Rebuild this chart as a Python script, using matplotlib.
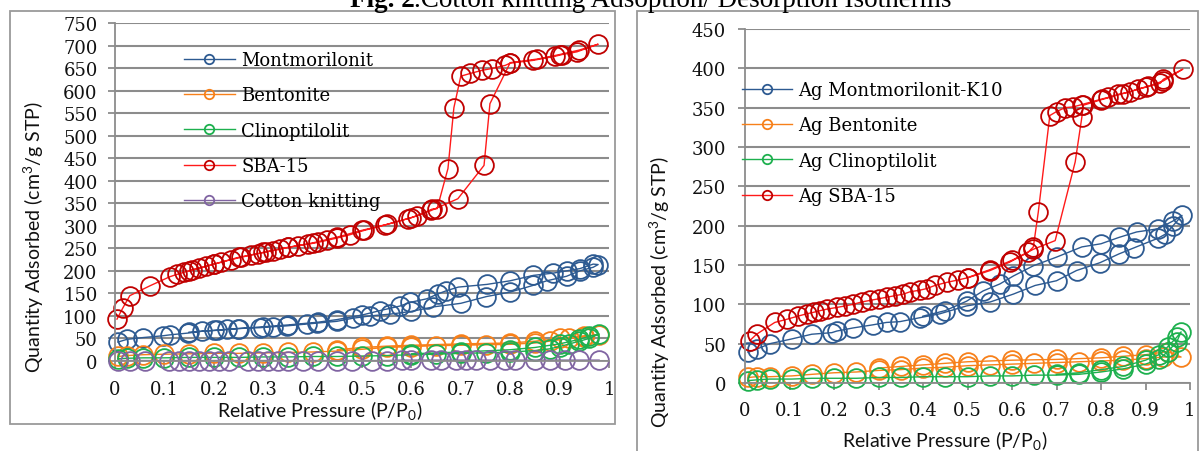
import matplotlib
matplotlib.use('Agg')
import matplotlib.pyplot as plt
from matplotlib.patches import Rectangle

# ---------------- data (left panel) ----------------
left_labels = ["Montmorilonit", "Bentonite", "Clinoptilolit", "SBA-15", "Cotton knitting"]

mont_x = [0.006, 0.024, 0.057, 0.097, 0.111, 0.148, 0.176, 0.206, 0.227, 0.249, 0.294, 0.32, 0.348,
          0.388, 0.408, 0.449, 0.482, 0.516, 0.557, 0.60, 0.644, 0.70, 0.752, 0.80, 0.847, 0.874,
          0.914, 0.941, 0.968, 0.978,
          0.968, 0.941, 0.914, 0.887, 0.847, 0.80, 0.753, 0.695, 0.671, 0.654, 0.631, 0.597, 0.577,
          0.537, 0.50, 0.45, 0.41, 0.35, 0.30, 0.25, 0.20, 0.15]
mont_y = [42, 48, 52, 56, 58, 62, 66, 68, 70, 72, 74, 76, 78,
          82, 84, 88, 95, 100, 104, 110, 120, 128, 143, 153, 168, 178,
          188, 200, 208, 214,
          215, 205, 200, 195, 190, 178, 170, 164, 156, 149, 138, 130, 122,
          112, 102, 92, 86, 80, 76, 72, 68, 64]

bent_x = [0.006, 0.024, 0.057, 0.10, 0.15, 0.20, 0.25, 0.30, 0.35, 0.40, 0.45, 0.50, 0.55, 0.60,
          0.65, 0.70, 0.75, 0.80, 0.85, 0.88, 0.92, 0.95, 0.98,
          0.95, 0.90, 0.85, 0.80, 0.70, 0.60, 0.55, 0.50, 0.45]
bent_y = [10, 12, 14, 15, 16, 17, 17, 18, 19, 20, 22, 26, 30, 32,
          34, 35, 36, 37, 40, 44, 50, 54, 58,
          56, 50, 44, 40, 38, 35, 33, 30, 25]

clino_x = [0.006, 0.024, 0.057, 0.10, 0.15, 0.20, 0.25, 0.30, 0.35, 0.40, 0.45, 0.50, 0.55, 0.60,
           0.65, 0.70, 0.75, 0.80, 0.85, 0.88, 0.90, 0.92, 0.94, 0.96, 0.98,
           0.96, 0.94, 0.90, 0.85, 0.80, 0.70, 0.60]
clino_y = [5, 6, 7, 7, 8, 8, 8, 9, 9, 10, 10, 11, 12, 14,
           15, 17, 18, 20, 23, 27, 32, 38, 44, 50, 60,
           55, 48, 38, 30, 25, 20, 16]

sba_x = [0.004, 0.016, 0.03, 0.071, 0.111, 0.125, 0.14, 0.155, 0.17, 0.185, 0.20, 0.215, 0.235,
         0.255, 0.275, 0.29, 0.305, 0.32, 0.335, 0.35, 0.37, 0.39, 0.41, 0.43, 0.45, 0.475, 0.505,
         0.547, 0.593, 0.611, 0.642, 0.652, 0.674, 0.686, 0.70, 0.719, 0.743, 0.763, 0.79, 0.80,
         0.846, 0.89, 0.905, 0.935, 0.978,
         0.94, 0.90, 0.855, 0.80, 0.759, 0.747, 0.694, 0.64, 0.60, 0.55, 0.50, 0.45, 0.40, 0.35,
         0.30, 0.25, 0.20, 0.15]
sba_y = [93, 118, 145, 167, 187, 192, 197, 202, 206, 210, 215, 219, 225,
         230, 235, 238, 242, 245, 249, 252, 256, 259, 263, 268, 273, 280, 290,
         302, 316, 322, 337, 338, 427, 562, 632, 638, 645, 649, 656, 661,
         667, 676, 680, 686, 703,
         690, 680, 670, 662, 571, 434, 360, 334, 318, 303, 290, 275, 262, 252,
         241, 230, 215, 200]

cotton_x = [0.006, 0.03, 0.06, 0.11, 0.13, 0.15, 0.17, 0.19, 0.21, 0.23, 0.27, 0.29, 0.31, 0.33,
            0.35, 0.38, 0.41, 0.45, 0.48, 0.52, 0.55, 0.58, 0.60, 0.64, 0.66, 0.69, 0.71, 0.73,
            0.76, 0.79, 0.81, 0.85, 0.88, 0.91, 0.94, 0.98]
cotton_y = [1, 1, 1, 1, 1, 1, 1, 1, 1, 1, 1, 1, 1, 1,
            1, 1, 1, 1, 1, 1, 1, 2, 2, 2, 2, 2, 2, 2,
            2, 2, 2, 2, 2, 2, 2, 2]

# ---------------- data (right panel) ----------------
right_labels = ["Ag Montmorilonit-K10", "Ag Bentonite", "Ag Clinoptilolit", "Ag SBA-15"]

ag_mont_x = [0.007, 0.026, 0.056, 0.105, 0.15, 0.195, 0.206, 0.243, 0.288, 0.318, 0.348, 0.393,
             0.438, 0.498, 0.551, 0.603, 0.652, 0.70, 0.745, 0.798, 0.84, 0.875, 0.928, 0.944,
             0.962, 0.982,
             0.962, 0.928, 0.88, 0.84, 0.80, 0.757, 0.70, 0.648, 0.603, 0.573, 0.535, 0.498,
             0.45, 0.40]
ag_mont_y = [39, 43, 50, 56, 62, 64, 66, 70, 74, 77, 78, 83,
             88, 98, 103, 113, 124, 130, 143, 153, 164, 172, 184, 189,
             200, 213,
             206, 196, 192, 185, 177, 173, 160, 149, 136, 126, 117, 104,
             92, 85]

ag_bent_x = [0.007, 0.026, 0.056, 0.105, 0.15, 0.20, 0.25, 0.30, 0.35, 0.40, 0.45, 0.50, 0.55,
             0.60, 0.65, 0.70, 0.75, 0.80, 0.85, 0.90, 0.94, 0.98,
             0.95, 0.90, 0.85, 0.80, 0.70, 0.60, 0.50, 0.45, 0.40, 0.35, 0.30]
ag_bent_y = [7, 8, 8, 9, 11, 13, 14, 16, 17, 19, 20, 22, 23,
             24, 25, 26, 27, 28, 29, 31, 33, 33,
             40, 36, 34, 32, 30, 29, 27, 25, 23, 21, 19]

ag_clino_x = [0.007, 0.026, 0.056, 0.105, 0.15, 0.20, 0.25, 0.30, 0.35, 0.40, 0.45, 0.50, 0.55,
              0.60, 0.65, 0.70, 0.75, 0.80, 0.85, 0.90, 0.93, 0.95, 0.97, 0.98,
              0.97, 0.95, 0.93, 0.90, 0.85, 0.80, 0.75, 0.70]
ag_clino_y = [3, 4, 5, 5, 6, 6, 6, 7, 7, 8, 8, 8, 9,
              9, 10, 10, 11, 14, 18, 24, 30, 40, 52, 65,
              58, 46, 36, 29, 21, 17, 13, 11]

ag_sba_x = [0.011, 0.026, 0.067, 0.094, 0.119, 0.139, 0.155, 0.169, 0.185, 0.206, 0.225, 0.243,
            0.262, 0.281, 0.30, 0.318, 0.337, 0.356, 0.371, 0.393, 0.408, 0.427, 0.454, 0.479,
            0.502, 0.551, 0.596, 0.636, 0.648, 0.659, 0.685, 0.70, 0.719, 0.738, 0.757, 0.802,
            0.816, 0.839, 0.865, 0.884, 0.906, 0.933, 0.94, 0.984,
            0.94, 0.90, 0.85, 0.80, 0.76, 0.757, 0.742, 0.697, 0.648, 0.60, 0.55, 0.50]
ag_sba_y = [54, 62, 77, 81, 85, 88, 90, 92, 94, 96, 98, 100,
            103, 105, 107, 109, 111, 113, 116, 118, 120, 124, 128, 131,
            134, 143, 154, 166, 173, 217, 340, 345, 350, 351, 354, 361,
            363, 367, 370, 374, 377, 381, 386, 399,
            384, 376, 368, 360, 353, 338, 281, 181, 170, 156, 144, 134]

x_ticks = [0, 0.1, 0.2, 0.3, 0.4, 0.5, 0.6, 0.7, 0.8, 0.9, 1]
x_tick_labels = ["0", "0.1", "0.2", "0.3", "0.4", "0.5", "0.6", "0.7", "0.8", "0.9", "1"]
left_ymax, right_ymax, y_step = 750, 450, 50

title_bold = "Fig. 2"
title_rest = ".Cotton knitting Adsoption/ Desorption Isotherms"
ylabel = "Quantity Adsorbed (cm$^3$/g STP)"
xlabel = "Relative Pressure (P/P$_0$)"

# ---------------- style ----------------
plt.rcParams['font.family'] = ['DejaVu Serif']
plt.rcParams['mathtext.fontset'] = 'custom'
plt.rcParams['mathtext.rm'] = 'Lato'
plt.rcParams['mathtext.it'] = 'Lato:italic'
plt.rcParams['mathtext.bf'] = 'Lato:bold'

BLUE = '#2D5A91'
ORANGE = '#F7801A'
GREEN = '#1DB04E'
RED_M = '#C00000'
RED_L = '#FF1A1A'
PURPLE = '#8064A2'
GRID = '#8C8C8C'
BOX = '#9A9A9A'

W, H = 1201, 452
fig = plt.figure(figsize=(W / 100, H / 100), dpi=100)


def fx(px):
    return px / W


def fy(py):
    return 1 - py / H


# outer chart boxes
fig.patches.append(Rectangle((fx(10), fy(425)), (615 - 10) / W, (425 - 12) / H,
                             transform=fig.transFigure, fill=False, ec=BOX, lw=1.3))
fig.patches.append(Rectangle((fx(637), fy(470)), (1198 - 637) / W, (470 - 12) / H,
                             transform=fig.transFigure, fill=False, ec=BOX, lw=1.3))

ax1 = fig.add_axes([fx(115), fy(362), (609 - 115) / W, (362 - 24) / H])
ax2 = fig.add_axes([fx(745), fy(384), (1190 - 745) / W, (384 - 30) / H])

MS = 13.5
MEW = 1.3


def series(ax, x, y, label, mcol, lcol):
    ax.plot(x, y, '-', color=lcol, lw=1.0, marker='o', ms=MS, mfc='none', mec=mcol,
            mew=MEW, label=label, clip_on=False)


def style(ax, ymax, xpad, ypad):
    ax.set_xlim(0, 1)
    ax.set_ylim(0, ymax)
    ax.set_xticks(x_ticks)
    ax.set_xticklabels(x_tick_labels)
    ax.set_yticks(list(range(0, ymax + 1, y_step)))
    for s in ['top', 'right']:
        ax.spines[s].set_visible(False)
    for s in ['left', 'bottom']:
        ax.spines[s].set_color(GRID)
        ax.spines[s].set_linewidth(1.3)
    ax.grid(axis='y', color=GRID, lw=1.5)
    ax.set_axisbelow(True)
    ax.tick_params(axis='both', direction='out', length=5, width=1.3, color=GRID,
                   labelsize=13, labelcolor='#111111')
    ax.tick_params(axis='x', pad=xpad)
    ax.tick_params(axis='y', pad=ypad)
    ax.patch.set_alpha(0)


# left panel
series(ax1, mont_x, mont_y, left_labels[0], BLUE, BLUE)
series(ax1, bent_x, bent_y, left_labels[1], ORANGE, ORANGE)
series(ax1, clino_x, clino_y, left_labels[2], GREEN, GREEN)
series(ax1, sba_x, sba_y, left_labels[3], RED_M, RED_L)
series(ax1, cotton_x, cotton_y, left_labels[4], PURPLE, PURPLE)
style(ax1, left_ymax, 8.5, 7.5)

# right panel
series(ax2, ag_mont_x, ag_mont_y, right_labels[0], BLUE, BLUE)
series(ax2, ag_bent_x, ag_bent_y, right_labels[1], ORANGE, ORANGE)
series(ax2, ag_clino_x, ag_clino_y, right_labels[2], GREEN, GREEN)
series(ax2, ag_sba_x, ag_sba_y, right_labels[3], RED_M, RED_L)
style(ax2, right_ymax, 8, 8.5)

leg_kw = dict(frameon=False, loc='upper left', borderpad=0, borderaxespad=0,
              markerscale=6.8 / MS, handletextpad=0.38, labelspacing=0.96,
              prop={'family': 'DejaVu Serif', 'size': 13},
              bbox_transform=fig.transFigure)
ax1.legend(bbox_to_anchor=(fx(184), fy(52)), handlelength=2.8, **leg_kw)
ax2.legend(bbox_to_anchor=(fx(742), fy(82)), handlelength=2.75, **leg_kw)

# axis titles
lab_kw = dict(family='Lato', fontsize=14, color='#111111', ha='center', va='center')
fig.text(fx(34), fy(237), ylabel, rotation=90, **lab_kw)
fig.text(fx(660), fy(292), ylabel, rotation=90, **lab_kw)
fig.text(fx(320), fy(411), xlabel, **lab_kw)
fig.text(fx(945), fy(441), xlabel, **lab_kw)

# title (partly cut at the top, like the reference)
t_rest = fig.text(fx(952), fy(7), title_rest, ha='right', va='baseline',
                  family='Liberation Serif', fontsize=19.5, color='#000000')
fig.canvas.draw()
bb = t_rest.get_window_extent(fig.canvas.get_renderer())
fig.text(bb.x0 / W, fy(7), title_bold, ha='right', va='baseline',
         family='Liberation Serif', fontweight='bold', fontsize=19.5, color='#000000')

fig.savefig('out.png', dpi=100)
